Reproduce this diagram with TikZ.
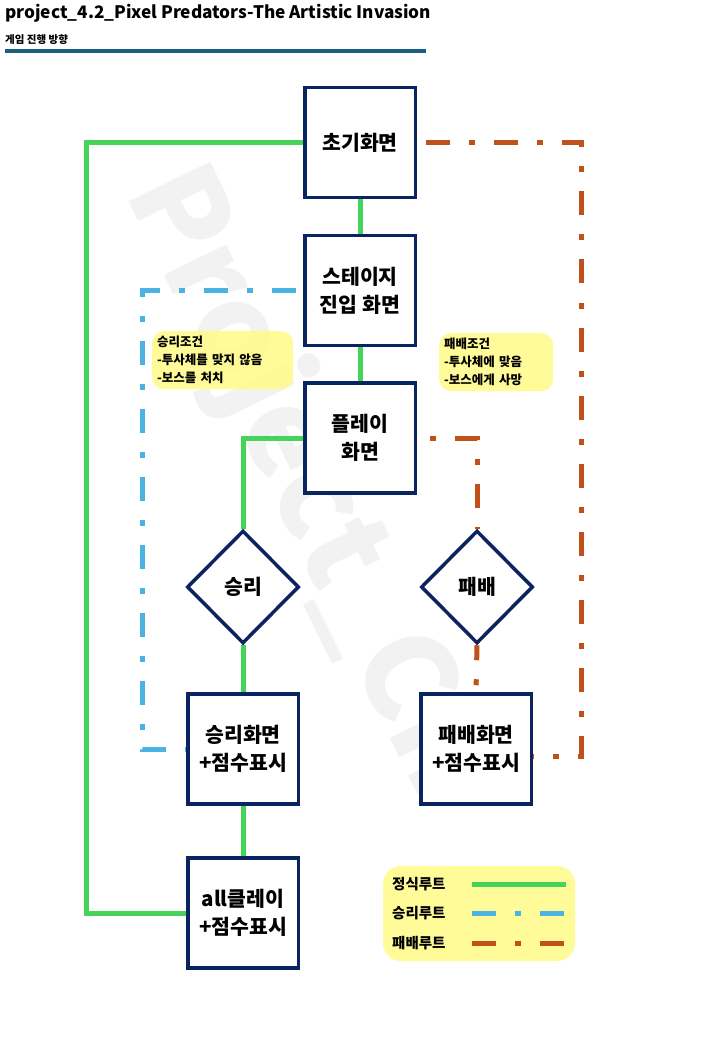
\documentclass[tikz,border=0pt]{standalone}
\usepackage{fontspec}
\setmainfont{Noto Sans CJK KR}
\usetikzlibrary{shapes.geometric,calc}
\definecolor{navy}{HTML}{0A2361}
\definecolor{gr}{HTML}{46D35A}
\definecolor{bl}{HTML}{4AB3E2}
\definecolor{orng}{HTML}{C1511A}
\definecolor{yel}{HTML}{FFFB86}
\definecolor{barc}{HTML}{17607F}
\definecolor{wm}{HTML}{F2F2F2}
\pgfdeclarelayer{wmark}
\pgfdeclarelayer{lines}
\pgfsetlayers{wmark,lines,main}
\begin{document}
\begin{tikzpicture}[x=1pt,y=-1pt,
  box/.style={draw=navy, line width=3.5pt, fill=white, minimum width=110.5pt, minimum height=110pt, inner sep=0pt, align=center, font=\bfseries\fontsize{20.5}{28}\selectfont},
  dia/.style={draw=navy, line width=3.5pt, fill=white, diamond, minimum width=112pt, minimum height=113pt, inner sep=0pt, font=\bfseries\fontsize{20.5}{24}\selectfont},
  mainroute/.style={draw=gr, line width=5pt},
  winroute/.style={draw=bl, line width=5pt, dash pattern=on 24pt off 19pt on 6pt off 19pt},
  loseroute/.style={draw=orng, line width=5pt, dash pattern=on 24pt off 19pt on 6pt off 19pt},
  note/.style={fill=yel, fill opacity=0.85, text opacity=1, rounded corners=12pt, align=left, inner xsep=5pt, inner ysep=2pt, minimum height=58pt, font=\bfseries\fontsize{12.5}{18}\selectfont},
  leglabel/.style={anchor=west, inner sep=0pt, font=\bfseries\fontsize{14.5}{16}\selectfont}]
\useasboundingbox (0,0) rectangle (720,1040);

% background and watermark
\begin{pgfonlayer}{wmark}
\fill[white] (0,0) rectangle (720,1040);
\node[rotate=-64, anchor=base west, inner sep=0pt, text=wm, font=\bfseries\fontsize{122}{122}\selectfont] (wmk) at (124,192) {Project\_Ch};
\end{pgfonlayer}

% title
\node[anchor=west, inner sep=0pt, font=\bfseries\fontsize{17.2}{22}\selectfont] (title) at (5,13) {project\_4.2\_Pixel Predators-The Artistic Invasion};
\node[anchor=west, inner sep=0pt, font=\bfseries\fontsize{10.5}{12}\selectfont] (sub) at (5,40) {게임 진행 방향};
\fill[barc] (5,49) rectangle (426,53);

% coordinates
\coordinate (gl) at (86.5,913);
\coordinate (bc) at (142,749);
\coordinate (oc) at (581,756);

% nodes
\node[box] (init) at (360,142.5) {초기화면};
\node[box] (stage) at (360,290.5) {스테이지\\진입 화면};
\node[box] (play) at (360,438) {플레이\\화면};
\node[dia] (winq) at (243,587) {승리};
\node[dia] (loseq) at (477,587) {패배};
\node[box] (winscr) at (243,749) {승리화면\\+점수표시};
\node[box] (losescr) at (476,749) {패배화면\\+점수표시};
\node[box] (clear) at (243,913) {all클레이\\+점수표시};

% connectors (behind boxes)
\begin{pgfonlayer}{lines}
\path[mainroute] (init.west) -| (gl) -- (clear.west);
\path[mainroute] (init.south) -- (stage.north);
\path[mainroute] (stage.south) -- (play.north);
\path[mainroute] (play.west) -| (winq.north);
\path[mainroute] (winq.south) -- (winscr.north);
\path[mainroute] (winscr.south) -- (clear.north);
\path[winroute, dash phase=61pt] (stage.west) -| (bc) -- (winscr.west);
\path[loseroute, dash phase=59pt] (init.east) -| (oc) -- ([yshift=-7pt]losescr.east);
\path[loseroute, dash phase=30pt] (play.east) -| (loseq.north);
\path[loseroute, dash phase=9pt] (loseq.south) -- (losescr.north);
\end{pgfonlayer}

% notes
\node[note, text width=131pt, anchor=north west] (winnote) at (152,331) {승리조건\\-투사체를 맞지 않음\\-보스를 처치};
\node[note, text width=104pt, anchor=north west] (losenote) at (439,333) {패배조건\\-투사체에 맞음\\-보스에게 사망};

% legend
\node[fill=yel, fill opacity=0.85, rounded corners=18pt, minimum width=192pt, minimum height=95pt, inner sep=0pt] (legend) at (479,913.5) {};
\node[leglabel] (l1) at (392,884) {정식루트};
\node[leglabel] (l2) at (392,913) {승리루트};
\node[leglabel] (l3) at (392,943) {패배루트};
\coordinate (a1) at (472,884); \coordinate (b1) at (566,884);
\coordinate (a2) at (472,913); \coordinate (b2) at (566,913);
\coordinate (a3) at (472,943); \coordinate (b3) at (566,943);
\path[mainroute] (a1) -- (b1);
\path[winroute] (a2) -- (b2);
\path[loseroute] (a3) -- (b3);
\end{tikzpicture}
\end{document}
